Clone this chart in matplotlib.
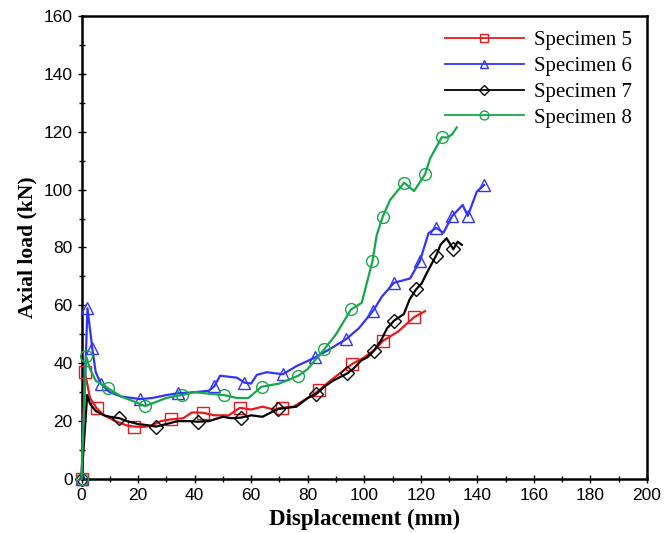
import numpy as np
import matplotlib
matplotlib.use("Agg")
import matplotlib.pyplot as plt
from matplotlib.ticker import MultipleLocator

# Specimen 5
x5 = [0, 1.2, 2, 3, 5.4, 8, 12, 16, 18.7, 22, 25, 28, 31.7, 36, 39, 42.9, 47, 52, 56, 60, 64,
      68, 70.8, 75, 80, 84.1, 88, 92, 95.6, 100, 104, 106.7, 112, 117.6, 121.5]
y5 = [0, 37, 33, 28, 24.4, 22, 20, 18.5, 18.1, 18, 18.5, 20, 20.6, 21, 23, 22.9, 22, 22, 24.6, 24, 25,
      24, 24.6, 25, 28, 30.7, 34, 37, 39.7, 42, 45, 47.8, 51, 55.9, 58]
m5 = [0, 1, 4, 8, 12, 15, 18, 22, 25, 28, 31, 33]

# Specimen 6
x6 = [0, 2.1, 3.8, 5, 6.9, 10, 14, 18, 20.7, 25, 30, 34, 40, 45, 47, 49, 55, 57.6, 60, 62,
      65.5, 71.2, 76, 82.6, 88, 93.5, 98, 103.2, 106.2, 110.5, 116.2, 119.7, 122.7, 125.4, 128,
      131.1, 134.8, 136.6, 139.8, 142.4]
y6 = [0, 59, 45.2, 37, 32.8, 30, 28.5, 28, 27.6, 28, 29, 29.6, 30, 30.5, 32.1, 35.7, 35, 33.3, 33, 36,
      36.9, 36.2, 39, 42, 45, 48.3, 52, 58.2, 63, 67.8, 69.3, 75.4, 84.9, 86.8, 85.1,
      90.9, 94.7, 90.9, 99.3, 101.6]
m6 = [0, 1, 2, 4, 8, 11, 14, 17, 21, 23, 25, 27, 29, 31, 33, 35, 37, 39]

# Specimen 7
x7 = [0, 2, 3, 5, 8, 10, 13.4, 16, 20, 24, 26.3, 30, 34, 38, 41.1, 45, 50, 53, 56.3, 60, 64, 67,
      69.6, 72, 76, 80, 82.9, 86, 89, 91, 94, 96, 99, 101, 103.4, 106, 108, 110.5, 114, 116,
      118.3, 120.3, 122, 125.4, 127, 129.1, 131.5, 133, 134.5]
y7 = [0, 29, 26, 23.5, 22, 21.5, 21, 20, 19, 18.5, 18.1, 19, 20, 20, 19.8, 20, 21.5, 21, 21.2, 22, 21.5, 23,
      24.2, 24.5, 25, 28, 29.3, 32, 34, 35, 36.5, 38, 41, 42, 44.3, 48, 52, 54.7, 57, 62,
      65.5, 67.6, 71, 77.2, 81, 83.2, 79.4, 82, 80.9]
m7 = [0, 6, 10, 14, 18, 22, 26, 30, 34, 37, 40, 43, 46]

# Specimen 8
x8 = [0, 1.6, 3, 5, 9.5, 14, 18, 22.5, 26, 30, 35.4, 40, 45, 50.4, 55, 59, 63.7, 70, 76.7, 80,
      85.9, 90, 95.3, 99.1, 102.9, 104.4, 106.5, 109.1, 114.1, 117.6, 121.5, 123.3, 127.4, 129.2,
      131, 132.7]
y8 = [0, 42.5, 38, 34, 31.3, 28.5, 27, 25.2, 26.5, 28, 29, 30, 29.5, 29, 28, 28, 31.9, 33, 35.7, 38,
      44.9, 50, 58.6, 60.9, 75.3, 84.3, 90.6, 96.4, 102.4, 99.5, 105.3, 110.8, 118.1, 118,
      119, 121.5]
m8 = [0, 1, 4, 7, 10, 13, 16, 18, 20, 22, 24, 26, 28, 30, 32]

series = [
    ("Specimen 5", x5, y5, m5, "#E8191C", "s"),
    ("Specimen 6", x6, y6, m6, "#3333FF", "^"),
    ("Specimen 7", x7, y7, m7, "#000000", "D"),
    ("Specimen 8", x8, y8, m8, "#15A84A", "o"),
]

fig = plt.figure(figsize=(6.65, 5.33), dpi=100)
ax = fig.add_axes([0.1226, 0.1013, 0.8504, 0.8687])

for label, xs, ys, marks, color, mk in series:
    ms = 7 if mk == "D" else 8.5
    ax.plot(xs, ys, color=color, lw=1.6, marker=mk, markevery=marks,
            markersize=ms, markerfacecolor="none", markeredgecolor=color,
            markeredgewidth=1.0, label=label, clip_on=False, zorder=3)

ax.set_xlim(0, 200)
ax.set_ylim(0, 160)
ax.xaxis.set_major_locator(MultipleLocator(20))
ax.xaxis.set_minor_locator(MultipleLocator(10))
ax.yaxis.set_major_locator(MultipleLocator(20))
ax.yaxis.set_minor_locator(MultipleLocator(10))
ax.tick_params(which="both", direction="inout", top=False, right=False,
               labelsize=12.5, width=1.0)
ax.tick_params(which="major", length=6)
ax.tick_params(which="minor", length=4)
for lab in ax.get_xticklabels() + ax.get_yticklabels():
    lab.set_family("Liberation Sans")
for sp in ax.spines.values():
    sp.set_linewidth(1.8)

ax.set_xlabel("Displacement (mm)", family="Liberation Serif", fontweight="bold",
              fontsize=16.5, labelpad=4)
ax.set_ylabel("Axial load (kN)", family="Liberation Serif", fontweight="bold",
              fontsize=15.5, labelpad=4)

leg = ax.legend(loc="upper right", frameon=False, numpoints=1, handlelength=3.8,
                prop={"family": "Liberation Serif", "size": 15}, markerscale=0.75,
                borderaxespad=0.3, labelspacing=0.3, handletextpad=0.5)
for line in leg.get_lines():
    line.set_linewidth(1.3)

fig.savefig("out.png", dpi=100)
